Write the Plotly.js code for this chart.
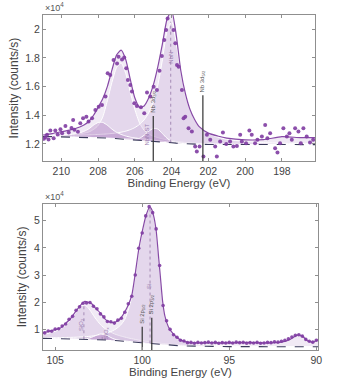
<!DOCTYPE html>
<html>
<head>
<meta charset="utf-8">
<script src="https://cdn.plot.ly/plotly-3.0.1.min.js"></script>
<style>
  html, body { margin: 0; padding: 0; background: #fff; }
  #chart { width: 339px; height: 380px; }
</style>
</head>
<body>
<div id="chart"></div>
<script>
// ---- Nb 3d region (top panel) ----
const nbGrid = [211, 210.5, 210, 209.5, 209, 208.75, 208.5, 208.25, 208, 207.75, 207.5, 207.25, 207, 206.75, 206.5, 206.25, 206, 205.75, 205.5, 205.25, 205, 204.75, 204.5, 204.25, 204, 203.75, 203.5, 203.25, 203, 202.75, 202.5, 202, 201.5, 201, 200, 199, 198, 197, 196.2];
const nbBackground = [12520, 12510, 12500, 12490, 12475, 12465, 12455, 12445, 12435, 12420, 12405, 12390, 12370, 12350, 12330, 12310, 12290, 12270, 12250, 12225, 12200, 12170, 12140, 12110, 12080, 12050, 12025, 12005, 11990, 11980, 11970, 11960, 11955, 11950, 11950, 11950, 11950, 11950, 11950];
const nbEnvelope = [12620, 12720, 12850, 12980, 13180, 13330, 13580, 14000, 14550, 15150, 16000, 17150, 18200, 18550, 17900, 16500, 15200, 14550, 14650, 15200, 16100, 17400, 19000, 20700, 21300, 19600, 17100, 15500, 14400, 13700, 13200, 12750, 12550, 12400, 12280, 12300, 12500, 12440, 12440];
// component heights above background
const nbPeak207 = [60, 80, 110, 150, 220, 290, 380, 560, 850, 1450, 2600, 3900, 4950, 5310, 4600, 3300, 2100, 1200, 700, 470, 340, 270, 210, 170, 140, 120, 105, 95, 85, 75, 70, 60, 50, 45, 35, 30, 25, 20, 20];
const nbPeak204 = [74, 85, 100, 119, 144, 160, 177, 199, 224, 254, 291, 337, 394, 466, 559, 682, 850, 1084, 1421, 1928, 2710, 3935, 5747, 7765, 8450, 7007, 4954, 3380, 2355, 1700, 1271, 776, 518, 370, 214, 138, 97, 72, 58];
const nbPeak208 = [55, 72, 105, 170, 300, 420, 600, 860, 1060, 1080, 900, 640, 440, 310, 220, 160, 125, 100, 80, 68, 58, 50, 44, 38, 34, 30, 27, 25, 23, 21, 19, 16, 14, 12, 10, 8, 7, 6, 5];
const nbPeak205 = [0, 0, 0, 0, 0, 0, 0, 0, 0, 0, 0, 0, 2, 5, 10, 20, 40, 120, 350, 650, 880, 860, 580, 280, 110, 40, 15, 5, 2, 0, 0, 0, 0, 0, 0, 0, 0, 0, 0];
const nbPointE = [210.95, 210.87, 210.78, 210.7, 210.6, 210.42, 210.33, 210.2, 210.05, 209.96, 209.78, 209.6, 209.45, 209.36, 209.29, 209.1, 208.97, 208.82, 208.64, 208.52, 208.33, 208.15, 207.97, 207.79, 207.6, 207.48, 207.34, 207.16, 206.97, 206.89, 206.7, 206.58, 206.47, 206.38, 206.25, 206.16, 206.03, 205.89, 205.67, 205.49, 205.34, 205.16, 204.98, 204.8, 204.66, 204.53, 204.4, 204.3, 204.22, 203.9, 203.8, 203.71, 203.62, 203.44, 203.35, 203.26, 203.08, 202.9, 202.72, 202.63, 202.48, 202.27, 202.08, 201.9, 201.63, 201.54, 201.36, 201.21, 201.03, 200.82, 200.64, 200.45, 200.27, 200.18, 199.95, 199.77, 199.64, 199.46, 199.33, 199.09, 198.91, 198.79, 198.64, 198.37, 198.24, 198.1, 197.92, 197.73, 197.59, 197.46, 197.28, 197.1, 196.97, 196.83, 196.65, 196.47, 196.3];
const nbPointI = [12350, 12470, 12630, 12300, 12930, 12400, 12930, 12650, 13020, 12740, 13250, 12790, 13100, 13670, 12980, 12850, 13440, 13790, 13900, 13560, 13790, 14370, 14600, 14720, 15300, 16930, 16810, 17850, 17620, 18080, 17900, 18040, 17280, 16460, 16110, 15650, 14840, 14650, 14560, 14140, 15580, 15300, 15990, 15760, 17110, 18130, 19250, 19950, 20760, 19950, 19020, 17500, 17390, 15760, 13790, 13900, 13090, 12860, 11810, 11460, 11810, 11120, 12630, 12280, 11810, 11120, 12160, 12790, 12000, 12160, 11810, 11860, 12630, 12160, 12050, 12930, 12630, 12050, 12280, 12510, 13320, 12400, 12740, 11700, 11390, 12050, 13090, 12510, 12740, 12280, 13090, 12860, 12050, 13090, 12510, 12090, 12280];
const nbTicks = [210, 208, 206, 204, 202, 200, 198];
const nbRangeE = [211, 196.2];
const nbRangeI = [10800, 21000];
const nbYTicks = [12000, 14000, 16000, 18000, 20000];
const nbYLabels = ['1.2', '1.4', '1.6', '1.8', '2'];
const nbRefE = [205.0, 202.3];
const nbRefTop = [13950, 15400];
const nbRefLabels = ['Nb 3d<sub>3/2</sub>', 'Nb 3d<sub>5/2</sub>'];
const nbCenterE = [204.05];
const nbCenterLow = [12080];
const nbCenterHigh = [20530];
const nbTagE = [204.05, 205.34];
const nbTagI = [18000, 12650];
const nbTagText = ['NbN', 'NbN-ST'];

// ---- Si 2p region (bottom panel) ----
const siGrid = [105.7, 105.4, 105.0, 104.7, 104.4, 104.1, 103.8, 103.5, 103.3, 103.1, 102.9, 102.7, 102.4, 102.1, 101.9, 101.7, 101.5, 101.25, 101.0, 100.8, 100.6, 100.4, 100.2, 100.0, 99.8, 99.6, 99.5, 99.35, 99.2, 99.05, 98.95, 98.83, 98.7, 98.5, 98.2, 97.9, 97.5, 97.0, 96.0, 95.0, 94.0, 93.0, 92.0, 91.5, 91.1, 90.8, 90.5, 90.2, 89.9];
const siBackground = [6700, 6670, 6630, 6600, 6570, 6520, 6470, 6420, 6380, 6340, 6290, 6240, 6170, 6100, 6040, 5970, 5900, 5800, 5700, 5580, 5460, 5330, 5190, 5050, 4930, 4800, 4750, 4660, 4570, 4480, 4420, 4370, 4310, 4220, 4100, 4000, 3900, 3800, 3700, 3650, 3630, 3620, 3610, 3600, 3600, 3600, 3600, 3600, 3600];
const siEnvelope = [8600, 9200, 9900, 10500, 12200, 14100, 16800, 19200, 20300, 20000, 19400, 17900, 16000, 13600, 12800, 12500, 12800, 14000, 16500, 19000, 22500, 30500, 39500, 46000, 51500, 54800, 54700, 52000, 46500, 36000, 29000, 20500, 15000, 11000, 8200, 6500, 5400, 5000, 5100, 5000, 5200, 5000, 5300, 6300, 7900, 7500, 5800, 5300, 6200];
const siPeakSi = [250, 280, 330, 380, 450, 540, 650, 800, 920, 1060, 1230, 1450, 1850, 2400, 2900, 3500, 4300, 5700, 8000, 11500, 16500, 24500, 33500, 40500, 46500, 49800, 49800, 47000, 41500, 31500, 24500, 16000, 10500, 6500, 3600, 2300, 1400, 850, 420, 250, 170, 120, 90, 80, 70, 65, 60, 55, 50];
const siPeakSiO2 = [1458, 1848, 2642, 3580, 4988, 7083, 9844, 12221, 12556, 11597, 9844, 7950, 5602, 3983, 3222, 2642, 2195, 1774, 1458, 1260, 1099, 966, 855, 762, 683, 616, 586, 545, 508, 474, 453, 430, 408, 375, 334, 299, 260, 222, 166, 129, 103, 85, 70, 65, 60, 58, 55, 53, 50];
const siPeakSiOx = [0, 0, 0, 0, 5, 10, 25, 60, 120, 350, 800, 1400, 2150, 1900, 1300, 700, 330, 120, 40, 10, 0, 0, 0, 0, 0, 0, 0, 0, 0, 0, 0, 0, 0, 0, 0, 0, 0, 0, 0, 0, 0, 0, 0, 0, 0, 0, 0, 0, 0];
const siPointE = [105.6, 105.4, 105.2, 105.0, 104.8, 104.6, 104.4, 104.2, 104.0, 103.8, 103.6, 103.4, 103.2, 103.0, 102.8, 102.6, 102.4, 102.2, 102.0, 101.8, 101.6, 101.4, 101.2, 101.0, 100.8, 100.6, 100.4, 100.2, 100.0, 99.8, 99.6, 99.4, 99.2, 99.0, 98.8, 98.6, 98.4, 98.2, 98.0, 97.8, 97.6, 97.4, 97.2, 97.0, 96.8, 96.6, 96.4, 96.2, 96.0, 95.8, 95.6, 95.4, 95.2, 95.0, 94.8, 94.6, 94.4, 94.2, 94.0, 93.8, 93.6, 93.4, 93.2, 93.0, 92.8, 92.6, 92.4, 92.2, 92.0, 91.8, 91.6, 91.4, 91.2, 91.0, 90.8, 90.6, 90.4, 90.2, 90.0];
const siPointI = [8700, 9400, 9300, 10100, 10200, 11200, 12000, 13700, 14800, 17000, 18300, 19600, 19700, 19900, 18500, 17600, 15700, 14600, 12900, 12800, 12300, 13400, 14100, 16300, 19400, 22200, 30000, 39900, 45500, 51800, 55200, 53000, 47000, 33500, 18800, 13200, 10000, 8000, 7100, 6000, 5700, 5100, 5200, 4900, 5200, 5000, 5100, 5300, 5000, 5200, 4900, 5100, 5000, 5200, 5000, 5300, 5100, 5200, 4900, 5100, 5000, 5200, 4900, 5000, 5200, 5100, 5400, 5300, 5600, 6000, 6500, 7200, 7800, 8000, 7500, 6300, 5600, 5300, 6000];
const siTicks = [105, 100, 95, 90];
const siRangeE = [105.7, 89.9];
const siRangeI = [2400, 56200];
const siYTicks = [10000, 20000, 30000, 40000, 50000];
const siYLabels = ['1', '2', '3', '4', '5'];
const siRefE = [100.0, 99.45];
const siRefTop = [11000, 14300];
const siRefLabels = ['Si 2p<sub>1/2</sub>', 'Si 2p<sub>3/2</sub>'];
const siCenterE = [103.35, 102.3, 99.55];
const siCenterLow = [6350, 6150, 4780];
const siCenterHigh = [18900, 8300, 54600];
const siTagE = [103.5, 102.05, 99.65];
const siTagI = [11700, 8700, 25700];
const siTagText = ['SiO<sub>2</sub>', 'SiO<sub>x</sub>', 'Si'];

const FONT = 'Liberation Sans, Arial, sans-serif';
const PURPLE = 'rgba(128, 60, 162, 0.9)';
const FILL = 'rgba(150, 90, 175, 0.13)';
const FILL_DARK = 'rgba(150, 90, 175, 0.26)';

function addTo(base, comp) {
  return base.map((b, i) => b + comp[i]);
}

function band(x, base, top, xa, ya, fillcolor, lineColor) {
  return [{
    x, y: base, xaxis: xa, yaxis: ya, type: 'scatter', mode: 'lines',
    line: { width: 0, color: 'rgba(0,0,0,0)', shape: 'spline', smoothing: 0.6 },
    hoverinfo: 'skip', showlegend: false,
  }, {
    x, y: top, xaxis: xa, yaxis: ya, type: 'scatter', mode: 'lines',
    fill: 'tonexty', fillcolor,
    line: { width: lineColor ? 1 : 0, color: lineColor || 'rgba(0,0,0,0)', shape: 'spline', smoothing: 0.6 },
    hoverinfo: 'skip', showlegend: false,
  }];
}

function vlines(xs, lows, highs, xa, ya, line) {
  const x = [];
  const y = [];
  xs.forEach((e, i) => {
    x.push(e, e, null);
    y.push(lows[i], highs[i], null);
  });
  return { x, y, xaxis: xa, yaxis: ya, type: 'scatter', mode: 'lines', line, showlegend: false, hoverinfo: 'skip' };
}

function panelTraces(p) {
  let traces = [];
  traces = traces.concat(band(p.grid, p.bg, p.env, p.xa, p.ya, FILL, null));
  p.comps.forEach((c) => {
    traces = traces.concat(band(p.grid, p.bg, addTo(p.bg, c.h), p.xa, p.ya, c.dark ? FILL_DARK : FILL, '#ffffff'));
  });
  traces.push(vlines(p.cE, p.cLow, p.cHigh, p.xa, p.ya, { color: '#a58bb5', width: 1, dash: 'dot' }));
  traces.push({
    x: p.grid, y: p.bg, xaxis: p.xa, yaxis: p.ya, type: 'scatter', mode: 'lines',
    line: { color: '#3b3b5c', width: 1.1, dash: 'dash' }, showlegend: false,
  });
  traces.push({
    x: p.grid, y: p.env, xaxis: p.xa, yaxis: p.ya, type: 'scatter', mode: 'lines',
    line: { color: '#874aa6', width: 1.2, shape: 'spline', smoothing: 0.6 }, showlegend: false,
  });
  traces.push({
    x: p.ptE, y: p.ptI, xaxis: p.xa, yaxis: p.ya, type: 'scatter', mode: 'markers',
    marker: { color: PURPLE, size: p.msize, line: { width: 0 } }, showlegend: false,
  });
  traces.push(vlines(p.refE, p.refE.map(() => p.rangeI[0]), p.refTop, p.xa, p.ya, { color: '#333333', width: 1.2 }));
  return traces;
}

function axisX(ticks, range, domain, anchor) {
  return {
    range, domain, anchor, autorange: false,
    tickvals: ticks, ticktext: ticks.map(String),
    showline: true, mirror: 'ticks', linecolor: '#8f8f8f', linewidth: 1,
    ticks: 'inside', ticklen: 3, tickcolor: '#8f8f8f',
    showgrid: false, zeroline: false,
    tickfont: { family: FONT, size: 10.5, color: '#444' },
    title: { text: 'Binding Energy (eV)', font: { family: FONT, size: 11.5, color: '#444' }, standoff: 3 },
  };
}

function axisY(vals, labels, range, domain, anchor) {
  return {
    range, domain, anchor, autorange: false,
    tickvals: vals, ticktext: labels,
    showline: true, mirror: 'ticks', linecolor: '#8f8f8f', linewidth: 1,
    ticks: 'inside', ticklen: 3, tickcolor: '#8f8f8f',
    showgrid: false, zeroline: false,
    tickfont: { family: FONT, size: 10.5, color: '#444' },
    title: { text: 'Intensity (counts/s)', font: { family: FONT, size: 12, color: '#444' }, standoff: 4 },
  };
}

function tagNotes(es, is, texts, xref, yref, color) {
  return es.map((e, i) => ({
    x: e, y: is[i], xref, yref, text: texts[i], showarrow: false, textangle: -90,
    font: { family: FONT, size: 6, color },
  }));
}

function refNotes(es, tops, texts, xref, yref) {
  return es.map((e, i) => ({
    x: e, y: tops[i], xref, yref, text: texts[i], showarrow: false, textangle: -90,
    yanchor: 'bottom', yshift: 1,
    font: { family: FONT, size: 6, color: '#555' },
  }));
}

function drawChart(id) {
  const top = {
    grid: nbGrid, bg: nbBackground, env: nbEnvelope,
    comps: [
      { h: nbPeak207 }, { h: nbPeak204 }, { h: nbPeak208, dark: true }, { h: nbPeak205, dark: true },
    ],
    cE: nbCenterE, cLow: nbCenterLow, cHigh: nbCenterHigh,
    ptE: nbPointE, ptI: nbPointI, msize: 4,
    refE: nbRefE, refTop: nbRefTop, rangeI: nbRangeI,
    xa: 'x', ya: 'y',
  };
  const bottom = {
    grid: siGrid, bg: siBackground, env: siEnvelope,
    comps: [
      { h: siPeakSiO2 }, { h: siPeakSi }, { h: siPeakSiOx, dark: true },
    ],
    cE: siCenterE, cLow: siCenterLow, cHigh: siCenterHigh,
    ptE: siPointE, ptI: siPointI, msize: 3.6,
    refE: siRefE, refTop: siRefTop, rangeI: siRangeI,
    xa: 'x2', ya: 'y2',
  };
  const data = panelTraces(top).concat(panelTraces(bottom));

  const annotations = []
    .concat(tagNotes(nbTagE, nbTagI, nbTagText, 'x', 'y', '#9b7fb0'))
    .concat(refNotes(nbRefE, nbRefTop, nbRefLabels, 'x', 'y'))
    .concat(tagNotes(siTagE, siTagI, siTagText, 'x2', 'y2', '#9b7fb0'))
    .concat(refNotes(siRefE, siRefTop, siRefLabels, 'x2', 'y2'))
    .concat([
      { xref: 'paper', yref: 'paper', x: 0, y: 1, xanchor: 'left', yanchor: 'bottom', showarrow: false,
        text: '\u00d710<sup>4</sup>', font: { family: FONT, size: 9, color: '#555' } },
      { xref: 'paper', yref: 'paper', x: 0, y: 0.436, xanchor: 'left', yanchor: 'bottom', showarrow: false,
        text: '\u00d710<sup>4</sup>', font: { family: FONT, size: 9, color: '#555' } },
    ]);

  const layout = {
    width: 339, height: 380,
    margin: { l: 43, r: 21, t: 15, b: 30 },
    paper_bgcolor: '#ffffff', plot_bgcolor: '#ffffff',
    showlegend: false,
    xaxis: axisX(nbTicks, nbRangeE, [0, 0.989], 'y'),
    yaxis: axisY(nbYTicks, nbYLabels, nbRangeI, [0.564, 1], 'x'),
    xaxis2: axisX(siTicks, siRangeE, [0, 1], 'y2'),
    yaxis2: axisY(siYTicks, siYLabels, siRangeI, [0, 0.436], 'x2'),
    annotations,
  };
  Plotly.newPlot(id, data, layout, { displayModeBar: false, staticPlot: true });
}

drawChart('chart');
</script>
</body>
</html>
